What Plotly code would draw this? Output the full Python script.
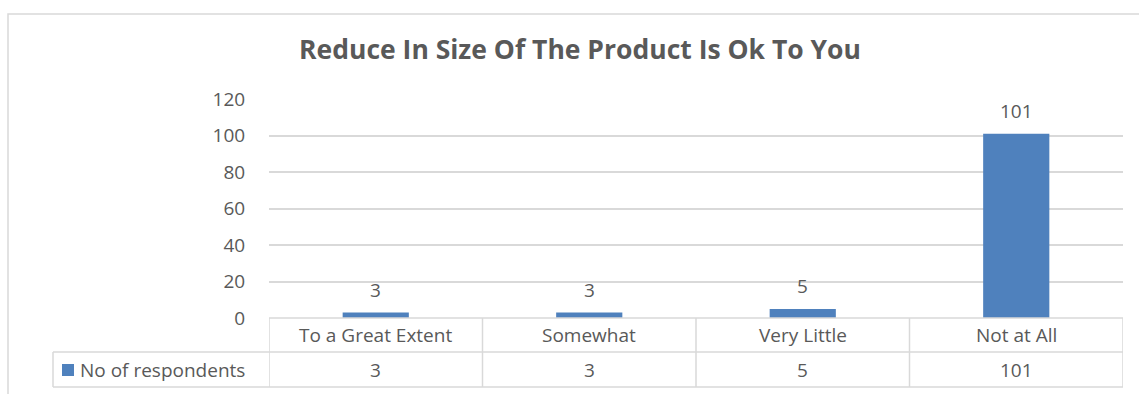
import plotly.graph_objects as go

categories = ["To a Great Extent", "Somewhat", "Very Little", "Not at All"]
values = [3, 3, 5, 101]
series_name = "No of respondents"
title = "Reduce In Size Of The Product Is Ok To You"
y_ticks = [0, 20, 40, 60, 80, 100, 120]

BLUE = "#4f81bd"
GRID = "#d9d9d9"
TXT = "#595959"
FONT = "Open Sans"
FS = 19

W, H = 1139, 394
L, R, T, B = 269, 16, 99, 76
pw = W - L - R
ph = H - T - B

def px_x(p):
    return (p - L) / pw

def px_y(p):
    return (H - B - p) / ph

xs = list(range(len(categories)))

fig = go.Figure()
fig.add_trace(go.Bar(x=xs, y=values, marker=dict(color=BLUE, line=dict(width=0)),
                     width=0.31, name=series_name, showlegend=False, hoverinfo="skip"))

shapes = []
annotations = []

# outer chart border
shapes.append(dict(type="rect", xref="paper", yref="paper", x0=px_x(8), x1=px_x(1160),
                   y0=px_y(420), y1=px_y(14), line=dict(color=GRID, width=1.5), layer="below"))

# data labels
for i, v in enumerate(values):
    annotations.append(dict(x=i, y=v, xref="x", yref="y", text=str(v), showarrow=False,
                            yanchor="middle", yshift=23, font=dict(family=FONT, size=FS, color=TXT)))

# data table
row1_top, row1_bot, row2_bot = 318, 352, 387
legend_left = 53
for k in range(len(categories) + 1):
    xv = k - 0.5
    shapes.append(dict(type="line", xref="x", yref="paper", x0=xv, x1=xv,
                       y0=px_y(row1_top), y1=px_y(row2_bot), line=dict(color=GRID, width=1.5)))
shapes.append(dict(type="line", xref="paper", yref="paper", x0=px_x(legend_left), x1=px_x(legend_left),
                   y0=px_y(row1_bot), y1=px_y(row2_bot), line=dict(color=GRID, width=1.5)))
for yy, x0 in [(row1_top, L), (row1_bot, legend_left), (row2_bot, legend_left)]:
    shapes.append(dict(type="line", xref="paper", yref="paper", x0=px_x(x0), x1=1,
                       y0=px_y(yy), y1=px_y(yy), line=dict(color=GRID, width=1.5)))

for i, (c, v) in enumerate(zip(categories, values)):
    annotations.append(dict(x=i, y=px_y((row1_top + row1_bot) / 2), xref="x", yref="paper",
                            text=c, showarrow=False, yanchor="middle",
                            font=dict(family=FONT, size=FS, color=TXT)))
    annotations.append(dict(x=i, y=px_y((row1_bot + row2_bot) / 2), xref="x", yref="paper",
                            text=str(v), showarrow=False, yanchor="middle",
                            font=dict(family=FONT, size=FS, color=TXT)))

# legend key in table
shapes.append(dict(type="rect", xref="paper", yref="paper", x0=px_x(62), x1=px_x(74),
                   y0=px_y(376), y1=px_y(364), fillcolor=BLUE, line=dict(width=0)))
annotations.append(dict(x=px_x(78), y=px_y((row1_bot + row2_bot) / 2), xref="paper", yref="paper",
                        text=series_name, showarrow=False, xanchor="left", yanchor="middle",
                        font=dict(family=FONT, size=FS, color=TXT)))

fig.update_layout(
    width=W, height=H,
    margin=dict(l=L, r=R, t=T, b=B, pad=0),
    paper_bgcolor="white", plot_bgcolor="white",
    title=dict(text="<b>" + title + "</b>", x=580 / W, xanchor="center", y=1 - 50 / H, yanchor="middle",
               font=dict(family=FONT, size=26.5, color=TXT)),
    xaxis=dict(range=[-0.5, len(categories) - 0.5], showticklabels=False, showgrid=False,
               zeroline=False, showline=False, fixedrange=True),
    yaxis=dict(range=[0, 120], tickvals=y_ticks, showgrid=True, gridcolor=GRID, gridwidth=1.5,
               zeroline=False, showline=False, ticks="outside", ticklen=19,
               tickcolor="rgba(0,0,0,0)", tickfont=dict(family=FONT, size=FS, color=TXT)),
    shapes=shapes, annotations=annotations,
    bargap=0.69,
)

fig.write_html("out.html")
